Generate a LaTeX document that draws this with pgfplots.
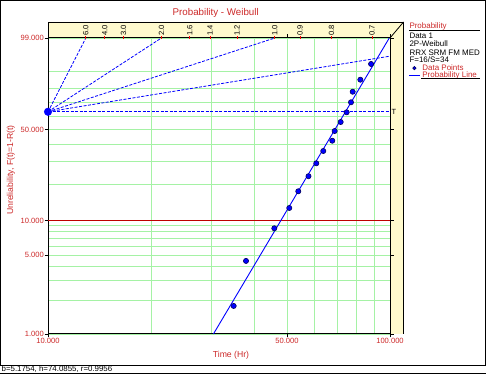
\documentclass[border=0pt]{standalone}
\usepackage{pgfplots}
\usepackage{pgfplotstable}
\pgfplotsset{compat=1.18}
\usepackage{fontspec}
\setmainfont{Liberation Sans}
\definecolor{txtred}{RGB}{204,40,40}
\definecolor{gridgreen}{RGB}{165,242,165}
\definecolor{cream}{RGB}{255,250,205}
\definecolor{lineblue}{RGB}{0,0,255}
\definecolor{redline}{RGB}{192,0,0}
\definecolor{markedge}{RGB}{0,0,90}

\pgfplotsset{
  legdot/.style={legend image code/.code={\draw[##1, mark size=1.7bp] plot coordinates {(5bp,0bp)};}},
  legline/.style={legend image code/.code={\draw[##1] (0bp,0bp) -- (11bp,0bp);}},
}

% failure times (Hr) and median-rank unreliability (%)
\pgfplotstableread{
t F
34.91 1.778
37.93 4.455
45.89 8.573
50.76 12.75
53.93 17.54
57.77 23.16
60.88 29.11
63.82 35.85
67.80 42.27
68.90 48.91
71.74 55.47
74.70 62.81
76.91 70.38
77.79 78.00
81.89 85.67
88.03 93.21
}\datatable

\begin{document}
\begin{tikzpicture}
\useasboundingbox (0,0) rectangle (486bp,374bp);
% outer frame and status bar
\draw[black, line width=1bp] (0.5bp,8bp) rectangle (485.5bp,373.5bp);
\draw[black, line width=1bp] (0bp,1bp) -- (486bp,1bp);
\node[anchor=base west, inner sep=0pt, font=\fontsize{7.9}{8}\selectfont] at (1.5bp,2.2bp) {b=5.1754, h=74.0855, r=0.9956};

% cream frame band (top and right)
\fill[cream] (48bp,336bp) -- (48bp,352bp) -- (403.5bp,352bp) -- (403.5bp,40bp) -- (390bp,40bp) -- (390bp,336bp) -- cycle;
\draw[black, line width=0.8bp] (48bp,336bp) -- (48bp,352bp) -- (403.5bp,352bp) -- (403.5bp,40bp);
\draw[black, line width=0.8bp] (390bp,336bp) -- (403.5bp,352bp);

\begin{axis}[
  at={(48bp,40bp)}, anchor=south west,
  scale only axis, width=342bp, height=296bp,
  xmode=log, xmin=10, xmax=100,
  ymin=-4.60015, ymax=1.52718,
  clip=false,
  xtick={10,50,100}, xticklabels={10.000,50.000,100.000},
  minor xtick={20,30,40,60,70,80,90},
  ytick={-4.60015,-2.97020,-2.25037,-0.36651,1.52718},
  yticklabels={1.000,5.000,10.000,50.000,99.000},
  minor ytick={-3.90194,-3.49137,-3.19853,-2.78263,-2.62319,-2.48432,-2.36116,-1.49994,-1.03093,-0.67172,-0.08742,0.18563,0.47588,0.83403},
  grid=both,
  major grid style={gridgreen, line width=0.8bp},
  minor grid style={gridgreen, line width=0.8bp},
  tick align=outside, major tick length=3.5bp, minor tick length=0pt,
  tick style={black, line width=0.8bp},
  axis line style={black, line width=1bp},
  ticklabel style={font=\fontsize{7.6}{8}\selectfont, text=txtred},
  yticklabel style={inner sep=0.5bp},
  xticklabel style={inner sep=0.5bp},
  legend style={at={(axis description cs:1.0556,0.9101)}, anchor=north west,
    draw=none, fill=none, inner sep=0pt, outer sep=0pt, row sep=0pt,
    nodes={inner sep=0pt, text=txtred, font=\fontsize{8}{8}\selectfont, text height=5.7bp, text depth=1.3bp},
    /tikz/every odd column/.append style={column sep=1.5bp}},
  legend cell align=left,
]
% 10% reference line
\addplot[redline, line width=1.3bp, forget plot] coordinates {(10,-2.25037) (100,-2.25037)};
% beta estimation lines from the origin (t=10, F=63.2%)
\addplot[lineblue, line width=0.8bp, dash pattern=on 3bp off 1.5bp, forget plot] coordinates {(10,0) (12.899,1.52718)};
\addplot[lineblue, line width=0.8bp, dash pattern=on 3bp off 1.5bp, forget plot] coordinates {(10,0) (21.460,1.52718)};
\addplot[lineblue, line width=0.8bp, dash pattern=on 3bp off 1.5bp, forget plot] coordinates {(10,0) (46.052,1.52718)};
\addplot[lineblue, line width=0.8bp, dash pattern=on 3bp off 1.5bp, forget plot] coordinates {(10,0) (100,1.15129)};
\addplot[lineblue, line width=0.8bp, dash pattern=on 3bp off 1.5bp, forget plot] coordinates {(10,0) (100,0)};
\node[anchor=west, inner sep=1.5bp, font=\fontsize{7.5}{8}\selectfont] at (axis cs:100,0) {T};
\addplot[only marks, mark=*, mark size=3.8bp, color=lineblue, forget plot] coordinates {(10,0)};
% data points
\addplot[only marks, mark=*, mark size=2.6bp, mark options={fill=lineblue, draw=markedge, line width=0.6bp}, legdot]
  table[x=t, y expr={ln(-ln(1-\thisrow{F}/100))}] {\datatable};
\addlegendentry{Data Points}
% fitted Weibull line (beta=5.1754, eta=74.0855)
\addplot[lineblue, line width=0.9bp, legline]
  coordinates {(30.459,-4.60015) (99.516,1.52718)};
\addlegendentry{Probability Line}
\end{axis}

% top beta scale
\begin{axis}[
  at={(48bp,40bp)}, anchor=south west,
  scale only axis, width=342bp, height=296bp,
  xmode=log, xmin=10, xmax=100, ymin=0, ymax=1,
  axis x line*=top, axis y line=none,
  axis line style={draw=none},
  xtick={12.899,14.649,16.637,21.460,25.973,29.767,35.701,46.052,54.569,67.460,88.617},
  xticklabels={6.0,4.0,3.0,2.0,1.6,1.4,1.2,1.0,0.9,0.8,0.7},
  minor xtick={}, ytick=\empty,
  tick align=center, major tick length=3bp,
  tick style={red, line width=0.8bp},
  xticklabel style={rotate=90, anchor=west, inner sep=0.5bp, font=\fontsize{7.6}{8}\selectfont, text=black},
]
\end{axis}

% titles and labels
\node[text=txtred, font=\fontsize{9.8}{11}\selectfont] at (215.7bp,361bp) {Probability - Weibull};
\node[text=txtred, font=\fontsize{8.7}{10}\selectfont] at (231bp,19bp) {Time (Hr)};
\node[text=txtred, rotate=90, font=\fontsize{8.7}{10}\selectfont] at (11bp,204bp) {Unreliability, F(t)=1-R(t)};

% legend header text
\begin{scope}[every node/.style={anchor=base west, inner sep=0pt, font=\fontsize{8}{8}\selectfont}]
\node[text=txtred] at (409.3bp,345.3bp) {Probability};
\draw[black, line width=1bp] (409.3bp,343.3bp) -- (480bp,343.3bp);
\node at (409.3bp,335.3bp) {Data 1};
\node at (409.3bp,327bp) {2P-Weibull};
\node at (409.3bp,318.7bp) {RRX SRM FM MED};
\node at (409.3bp,311bp) {F=16/S=34};
\draw[black, line width=1bp] (421bp,295.8bp) -- (480bp,295.8bp);
\end{scope}
\end{tikzpicture}
\end{document}
